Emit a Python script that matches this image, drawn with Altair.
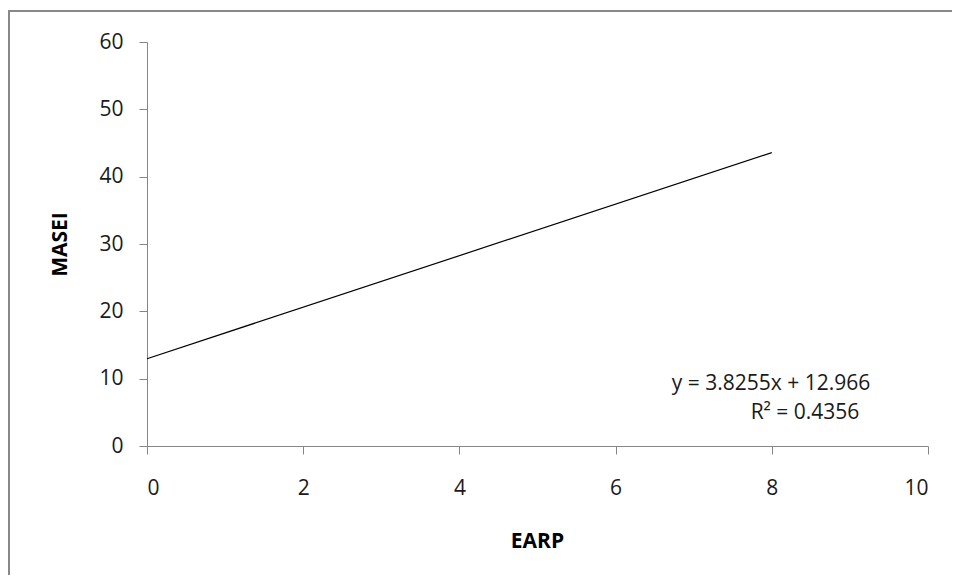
import altair as alt
import pandas as pd

# Data
earp = [0, 8]
masei = [12.966, 43.57]
eq_text = ["y = 3.8255x + 12.966", "R\u00b2 = 0.4356"]

df = pd.DataFrame({"EARP": earp, "MASEI": masei})

FONT = "Open Sans"
GRAY = "#868686"
FS = 21

line = alt.Chart(df).mark_line(color="#000000", strokeWidth=1.2).encode(
    x=alt.X("EARP:Q",
            scale=alt.Scale(domain=[0, 10], nice=False, zero=False),
            axis=alt.Axis(values=[0, 2, 4, 6, 8, 10], format="d", grid=False,
                          domainColor=GRAY, tickColor=GRAY, tickSize=8,
                          labelPadding=23, labelFontSize=FS, labelFont=FONT,
                          labelColor="#1a1a1a", title="EARP", titleFont=FONT,
                          titleFontSize=FS, titleFontWeight="bold", titleColor="#000000",
                          titleX=390, titleY=95, titleBaseline="middle",
                          titleAlign="center")),
    y=alt.Y("MASEI:Q",
            scale=alt.Scale(domain=[0, 60], nice=False),
            axis=alt.Axis(values=[0, 10, 20, 30, 40, 50, 60], grid=False,
                          domainColor=GRAY, tickColor=GRAY, tickSize=8,
                          labelPadding=16, labelFontSize=FS, labelFont=FONT,
                          labelColor="#1a1a1a", title="MASEI", titleFont=FONT,
                          titleFontSize=FS, titleFontWeight="bold", titleColor="#000000",
                          titleX=-87, titleY=202, titleBaseline="middle",
                          titleAlign="center", titleAngle=270)),
)

ann1 = alt.Chart(pd.DataFrame({"t": [eq_text[0]]})).mark_text(
    font=FONT, fontSize=FS, color="#1a1a1a", align="center", baseline="middle"
).encode(text="t:N", x=alt.value(624), y=alt.value(342))
ann2 = alt.Chart(pd.DataFrame({"t": [eq_text[1]]})).mark_text(
    font=FONT, fontSize=FS, color="#1a1a1a", align="center", baseline="middle"
).encode(text="t:N", x=alt.value(658), y=alt.value(371))

border_left = alt.Chart(alt.Data(values=[{}])).mark_rule(
    color="#888888", strokeWidth=2
).encode(x=alt.value(-138), y=alt.value(-32), y2=alt.value(533))
border_top = alt.Chart(alt.Data(values=[{}])).mark_rule(
    color="#888888", strokeWidth=2
).encode(y=alt.value(-31), x=alt.value(-139), x2=alt.value(805))

chart = alt.layer(border_left, border_top, line, ann1, ann2).properties(
    width=781, height=404,
    autosize=alt.AutoSizeParams(type="none"),
    padding={"left": 139, "top": 34, "right": 24, "bottom": 129},
    background="white",
).configure_view(strokeWidth=0)

chart.save("out.html", embed_options={"renderer": "svg", "actions": False})
